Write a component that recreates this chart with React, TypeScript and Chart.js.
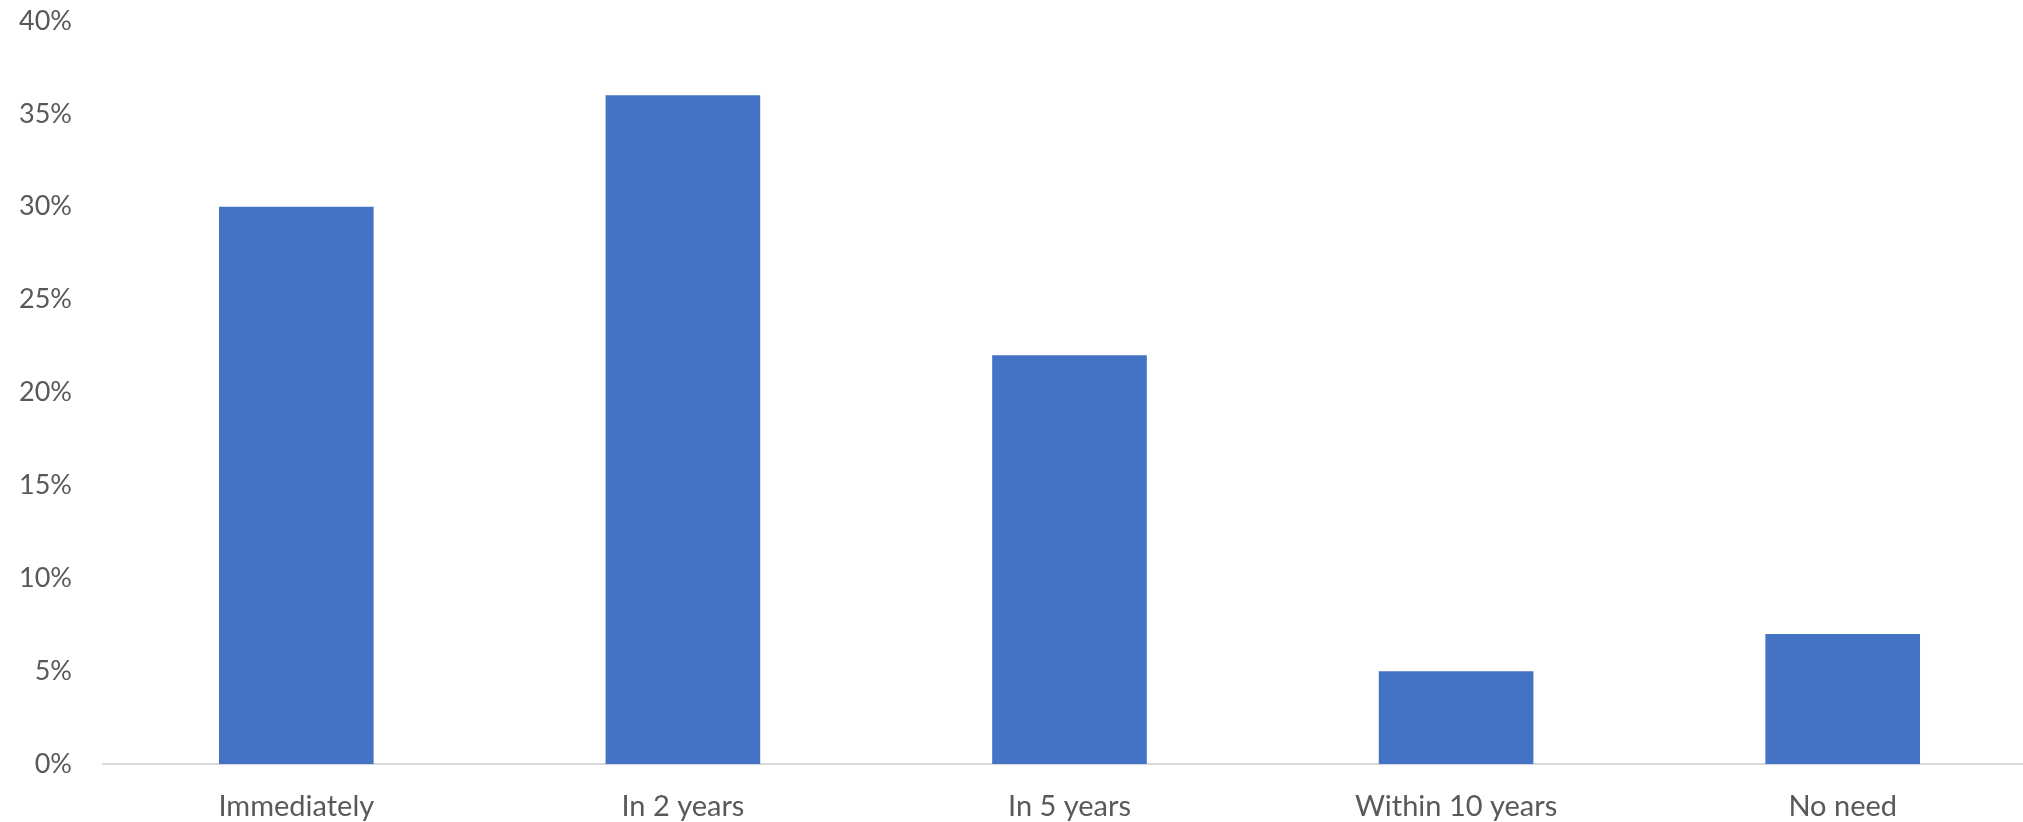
import React, { useEffect, useRef } from "react";
import { Chart, registerables } from "chart.js";

Chart.register(...registerables);

const categories = ["Immediately", "In 2 years", "In 5 years", "Within 10 years", "No need"];
const values = [30, 36, 22, 5, 7];
const yTicks = [0, 5, 10, 15, 20, 25, 30, 35, 40];

const FONT = "Lato, 'Open Sans', sans-serif";

export default function App() {
  const ref = useRef<HTMLCanvasElement | null>(null);
  useEffect(() => {
    if (!ref.current) return;
    const chart = new Chart(ref.current, {
      type: "bar",
      data: {
        labels: categories,
        datasets: [
          {
            data: values,
            backgroundColor: "#4472C4",
            borderWidth: 0,
            categoryPercentage: 1,
            barPercentage: 0.4,
          },
        ],
      },
      options: {
        animation: false,
        responsive: true,
        maintainAspectRatio: false,
        layout: { padding: { top: 21, right: 0, bottom: 0, left: 0 } },
        plugins: { legend: { display: false }, tooltip: { enabled: false } },
        scales: {
          x: {
            grid: { display: false, drawTicks: false },
            border: { display: true, color: "#D9D9D9", width: 2 },
            ticks: {
              color: "#595959",
              font: { family: FONT, size: 29 },
              padding: 25,
              maxRotation: 0,
            },
            afterFit: (s: any) => {
              s.height = 58;
              s.paddingLeft = 0;
              s.paddingRight = 0;
            },
          },
          y: {
            min: 0,
            max: 40,
            afterBuildTicks: (s: any) => {
              s.ticks = yTicks.map((v) => ({ value: v }));
            },
            grid: { display: false, drawTicks: false },
            border: { display: false },
            ticks: {
              color: "#595959",
              font: { family: FONT, size: 27 },
              padding: 31,
              callback: (v: any) => `${v}%`,
            },
            afterFit: (s: any) => {
              s.width = 103;
              s.paddingTop = 0;
              s.paddingBottom = 0;
            },
          },
        },
      },
    });
    return () => chart.destroy();
  }, []);
  return (
    <div style={{ position: "fixed", left: 0, top: 0, width: 2023, height: 822, overflow: "hidden", background: "#fff" }}>
      <div style={{ position: "relative", width: 2036, height: 822 }}>
        <canvas ref={ref} />
      </div>
    </div>
  );
}
